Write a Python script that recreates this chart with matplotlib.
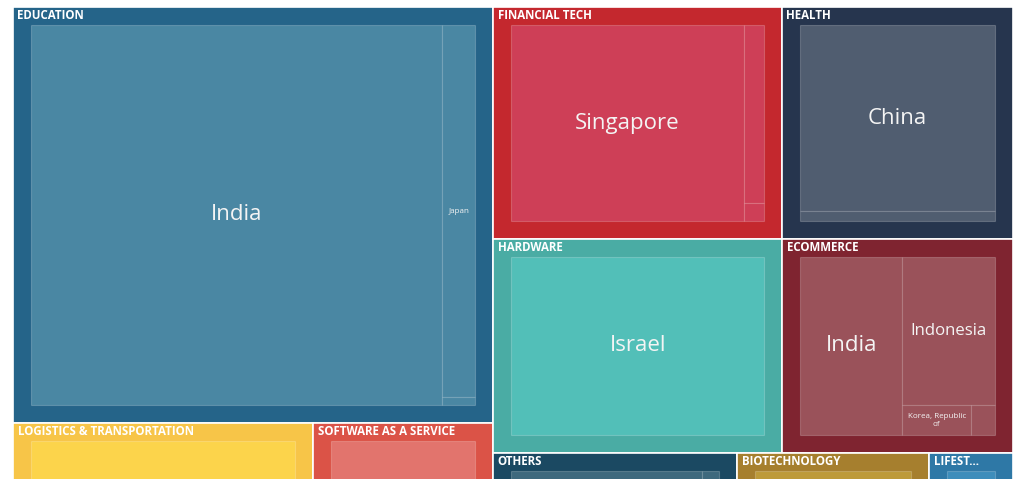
import textwrap
import matplotlib.pyplot as plt
from matplotlib.patches import Rectangle

# funding per sector, split by country (USD M)
sectors = ["EDUCATION", "FINANCIAL TECH", "HEALTH", "HARDWARE", "ECOMMERCE",
           "LOGISTICS & TRANSPORTATION", "SOFTWARE AS A SERVICE", "OTHERS",
           "BIOTECHNOLOGY", "LIFESTYLE"]

education_countries = ["India", "Japan", "Singapore"]
education_values = [184.9, 14.5, 0.3]
fintech_countries = ["Singapore", "Hong Kong", "Malaysia"]
fintech_values = [61.6, 4.9, 0.5]
health_countries = ["China", "India"]
health_values = [50.9, 2.7]
hardware_countries = ["Israel"]
hardware_values = [61.8]
ecommerce_countries = ["India", "Indonesia", "Korea, Republic of", "Malaysia"]
ecommerce_values = [25.9, 19.6, 2.9, 1.0]
logistics_countries = ["India"]
logistics_values = [57.0]
saas_countries = ["Singapore"]
saas_values = [34.2]
others_countries = ["India", "Singapore", "Japan"]
others_values = [35.8, 2.2, 1.0]
biotech_countries = ["Israel"]
biotech_values = [30.7]
lifestyle_countries = ["Japan"]
lifestyle_values = [13.4]

leaves = {
    "EDUCATION": (education_countries, education_values),
    "FINANCIAL TECH": (fintech_countries, fintech_values),
    "HEALTH": (health_countries, health_values),
    "HARDWARE": (hardware_countries, hardware_values),
    "ECOMMERCE": (ecommerce_countries, ecommerce_values),
    "LOGISTICS & TRANSPORTATION": (logistics_countries, logistics_values),
    "SOFTWARE AS A SERVICE": (saas_countries, saas_values),
    "OTHERS": (others_countries, others_values),
    "BIOTECHNOLOGY": (biotech_countries, biotech_values),
    "LIFESTYLE": (lifestyle_countries, lifestyle_values),
}

# (outer, inner) colours
colors = {
    "EDUCATION": ("#256489", "#4a87a3"),
    "FINANCIAL TECH": ("#c4282e", "#ce3f57"),
    "HEALTH": ("#26354e", "#505d70"),
    "HARDWARE": ("#4aaca4", "#52bfb8"),
    "ECOMMERCE": ("#7f2430", "#9a525a"),
    "LOGISTICS & TRANSPORTATION": ("#f7c548", "#fcd44b"),
    "SOFTWARE AS A SERVICE": ("#db5347", "#e2746d"),
    "OTHERS": ("#1b4962", "#3e697d"),
    "BIOTECHNOLOGY": ("#a67f2e", "#bd9a39"),
    "LIFESTYLE": ("#2e78a6", "#3d8dbb"),
}

# columns -> rows -> sectors
layout = [
    [["EDUCATION"], ["LOGISTICS & TRANSPORTATION", "SOFTWARE AS A SERVICE"]],
    [["FINANCIAL TECH", "HEALTH"], ["HARDWARE", "ECOMMERCE"],
     ["OTHERS", "BIOTECHNOLOGY", "LIFESTYLE"]],
]

PAD = 18
LEAF_FS = 16
W = 1000.0
totals = {s: sum(leaves[s][1]) for s in sectors}
grand = sum(totals.values())
H = grand * 1000.0 / W

fig = plt.figure(figsize=(10.24, 4.79), dpi=100)
top = 1 - 7 / 479
ax = fig.add_axes([13 / 1024, top - H / 479, W / 1024, H / 479])
ax.set_xlim(0, W)
ax.set_ylim(H, 0)
ax.axis("off")
renderer = fig.canvas.get_renderer()

# the treemap runs past the bottom of the picture; this is the last visible y
visible_bottom = ax.transData.inverted().transform((0, 0))[1]


def slice_leaves(values, x, y, w, h):
    rects = []
    remaining = sum(values)
    for v in values:
        if w > h:
            dw = w * v / remaining
            rects.append((x, y, dw, h))
            x += dw
            w -= dw
        else:
            dh = h * v / remaining
            rects.append((x, y, w, dh))
            y += dh
            h -= dh
        remaining -= v
    return rects


def draw_sector(name, x, y, w, h):
    outer, inner = colors[name]
    ax.add_patch(Rectangle((x, y), w, h, facecolor=outer, edgecolor="white", lw=1.2))

    countries, values = leaves[name]
    rects = slice_leaves(values, x + PAD, y + PAD, w - 2 * PAD, h - 2 * PAD)
    for country, (lx, ly, lw, lh) in zip(countries, rects):
        ax.add_patch(Rectangle((lx, ly), lw, lh, facecolor=inner,
                               edgecolor=(1, 1, 1, 0.2), lw=0.8))
        if lw > 25 and lh > 25 and ly + lh / 2 < visible_bottom - 20:
            t = ax.text(lx + lw / 2, ly + lh / 2, country, fontsize=LEAF_FS,
                        family="Open Sans", color="#f4f4f4",
                        ha="center", va="center")
            tw = t.get_window_extent(renderer).width
            if tw > lw - 16:
                fs = max(5.8, LEAF_FS * (lw - 16) / tw)
                t.set_fontsize(fs)
                if tw * fs / LEAF_FS > lw - 16:
                    t.set_text(textwrap.fill(country, 15))

    # header, cut with "..." when it does not fit
    label = ax.text(x + 4.5, y + 12.2, name, fontsize=8.3, fontweight="bold",
                    family="Open Sans", color="white", ha="left", va="baseline")
    k = len(name)
    while label.get_window_extent(renderer).width > w - 36 and k > 1:
        k -= 1
        label.set_text(name[:k] + "...")


x0 = 0.0
for column in layout:
    col_sum = sum(totals[s] for row in column for s in row)
    col_w = W * col_sum / grand
    y0 = 0.0
    for row in column:
        row_sum = sum(totals[s] for s in row)
        row_h = H * row_sum / col_sum
        x = x0
        for s in row:
            w = col_w * totals[s] / row_sum
            draw_sector(s, x, y0, w, row_h)
            x += w
        y0 += row_h
    x0 += col_w

fig.savefig("out.png", dpi=100)
